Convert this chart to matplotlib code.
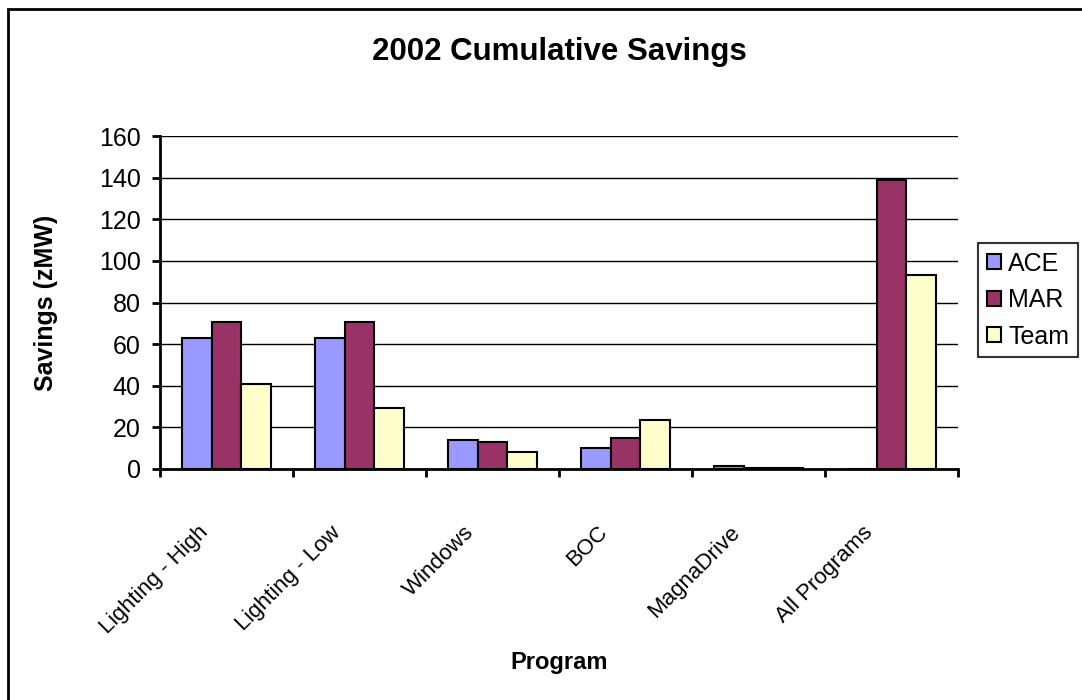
import matplotlib.pyplot as plt
import matplotlib.transforms as mtransforms
import numpy as np
from matplotlib import font_manager
from matplotlib.patches import Rectangle

plt.rcParams['font.family'] = ['Liberation Sans', 'DejaVu Sans']

programs = ['Lighting - High', 'Lighting - Low', 'Windows', 'BOC', 'MagnaDrive', 'All Programs']
ace = [63, 63, 14, 10, 1.5, 0.2]
mar = [70.5, 70.5, 13, 15, 0.4, 139]
team = [41, 29.5, 8, 23.5, 0.3, 93]
series = ['ACE', 'MAR', 'Team']
colors = ['#9999ff', '#993366', '#ffffcc']

# narrow face for the squeezed category labels, if it is there
names = {f.name for f in font_manager.fontManager.ttflist}
if 'Liberation Sans Narrow' in names:
    cat_font, cat_size = ['Liberation Sans Narrow', 'Liberation Sans'], 18.5
else:
    cat_font, cat_size = ['Liberation Sans', 'DejaVu Sans'], 16

fig = plt.figure(figsize=(10.82, 7), dpi=100)
ax = fig.add_axes([160/1082, 1-469/700, 798/1082, 333/700])

x = np.arange(len(programs))
w = 1/4.5
for k, (vals, c, name) in enumerate(zip([ace, mar, team], colors, series)):
    ax.bar(x + (k-1)*w, vals, w, color=c, edgecolor='black', linewidth=1.5, label=name, zorder=3)

ax.set_xlim(-0.5, len(programs)-0.5)
ax.set_ylim(0, 160)
ax.set_yticks(range(0, 161, 20))
ax.yaxis.grid(True, color='black', linewidth=1)
ax.set_axisbelow(True)
for s in ['top', 'right']:
    ax.spines[s].set_visible(False)
for s in ['left', 'bottom']:
    ax.spines[s].set_linewidth(2)
ax.tick_params(axis='y', length=6, width=2, labelsize=18, direction='out', pad=8)

ax.set_xticks(np.arange(-0.5, len(programs)), minor=False)
ax.set_xticklabels([])
ax.tick_params(axis='x', which='major', length=6, width=2, direction='out')
ax.set_xticks(x, minor=True)
ax.set_xticklabels(programs, minor=True, rotation=45, ha='right', rotation_mode='anchor')
ax.tick_params(axis='x', which='minor', length=0, pad=0)
shift = mtransforms.ScaledTranslation(-0.29, -0.53, fig.dpi_scale_trans)
for lbl in ax.get_xticklabels(minor=True):
    lbl.set_family(cat_font)
    lbl.set_fontsize(cat_size)
    lbl.set_transform(lbl.get_transform() + shift)

ax.set_ylabel('Savings (zMW)', fontsize=18, fontweight='bold')
ax.yaxis.set_label_coords(-114/798, 0.5)
ax.set_xlabel('Program', fontsize=17, fontweight='bold')
ax.xaxis.set_label_coords(0.5, -(663-469)/333)
ax.xaxis.label.set_va('center')
ax.yaxis.label.set_va('center')
ax.set_title('2002 Cumulative Savings', fontsize=22.5, fontweight='bold', y=(469-60)/333, va='center')

leg = ax.legend(loc='center left', bbox_to_anchor=((978-160)/798, (469-300)/333), borderaxespad=0,
                fontsize=18, frameon=True, fancybox=False, edgecolor='black',
                handlelength=0.55, handleheight=0.55, handletextpad=0.3, borderpad=0.35,
                labelspacing=0.5)
leg.get_frame().set_linewidth(1.5)
for h in leg.legend_handles:
    h.set_linewidth(1.5)

fig.patches.append(Rectangle((7.5/1082, -0.1), 1.2, 1.1 - 9.5/700, transform=fig.transFigure,
                             fill=False, edgecolor='black', linewidth=2))

fig.savefig('out.png', dpi=100)
